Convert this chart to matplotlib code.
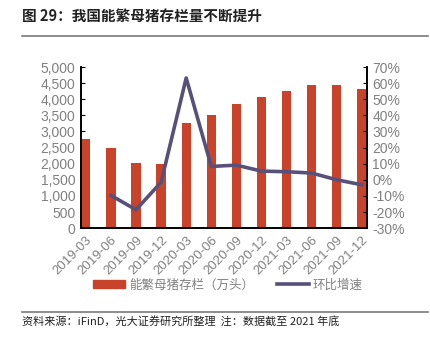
import matplotlib.pyplot as plt
from matplotlib.lines import Line2D
import numpy as np

plt.rcParams['font.family'] = ['Liberation Sans', 'Noto Sans CJK SC', 'DejaVu Sans']

# data
quarters = ["2019-03", "2019-06", "2019-09", "2019-12", "2020-03", "2020-06",
            "2020-09", "2020-12", "2021-03", "2021-06", "2021-09", "2021-12"]
sows = [2755, 2494, 2009, 1988, 3251, 3509, 3851, 4059, 4255, 4450, 4450, 4317]
qoq = [np.nan, -9.7, -18.6, -1.5, 63.2, 8.3, 9.1, 5.4, 5.0, 4.2, 0.0, -3.1]

bar_color = "#c8432a"
line_color = "#57507a"
gray = "#808080"
cjk = ['Noto Sans CJK SC', 'DejaVu Sans']

fig = plt.figure(figsize=(4.3, 3.42), dpi=100)
ax = fig.add_axes([0.188, 0.333, 0.665, 0.471])
x = np.arange(len(quarters))
ax.bar(x, sows, width=0.37, color=bar_color, zorder=2)
ax.set_xlim(-0.2, 11.2)
ax.set_ylim(0, 5000)
ax.set_yticks(np.arange(0, 5001, 500))
ax.set_yticklabels([f"{v:,}" for v in range(0, 5001, 500)])
ax.set_xticks(x)
ax.set_xticklabels(quarters, rotation=45, ha="right", rotation_mode="anchor")

ax2 = ax.twinx()
ax2.plot(x, qoq, color=line_color, lw=2.6, zorder=3)
ax2.set_ylim(-30, 70)
ax2.set_yticks(np.arange(-30, 71, 10))
ax2.set_yticklabels([f"{v}%" for v in range(-30, 71, 10)])

for a in (ax, ax2):
    a.spines["top"].set_visible(False)
    for s in ("left", "right", "bottom"):
        a.spines[s].set_color("black")
        a.spines[s].set_linewidth(1.2)
    a.tick_params(axis="y", direction="in", length=3, labelsize=10, labelcolor=gray, pad=4)
    a.tick_params(axis="x", length=0, labelsize=9.5, labelcolor=gray, pad=4)

handles = [plt.Rectangle((0, 0), 1, 1, color=bar_color),
           Line2D([0], [0], color=line_color, lw=2.6)]
fig.legend(handles, ["能繁母猪存栏（万头）", "环比增速"], loc="center",
           bbox_to_anchor=(0.53, 0.167), ncol=2, frameon=False,
           prop={'family': cjk, 'size': 9},
           labelcolor=gray, handlelength=2.6, handletextpad=0.3, columnspacing=1.8)

# title, rules and footer
fig.text(0.051, 0.955, "图 29：我国能繁母猪存栏量不断提升", fontsize=10.5,
         fontweight="bold", va="center", color="#222222", family=cjk)
fig.add_artist(Line2D([0.051, 0.995], [0.895, 0.895], color="#7a7a7a", lw=1.2))
fig.add_artist(Line2D([0.051, 0.995], [0.088, 0.088], color="#7a7a7a", lw=1.2))
fig.text(0.051, 0.058, "资料来源：iFinD，光大证券研究所整理  注：数据截至 2021 年底",
         fontsize=8, va="center", color="#222222", family=cjk)

fig.savefig("out.png", dpi=100)
